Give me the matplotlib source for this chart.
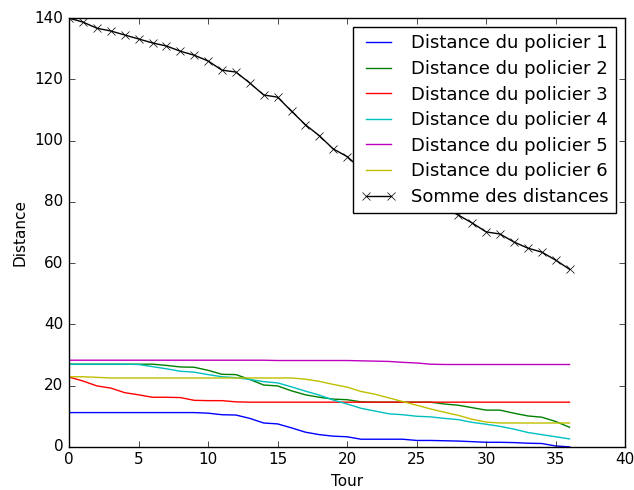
import matplotlib
matplotlib.use('Agg')
import matplotlib.pyplot as plt

# Tours 0..36
tours = list(range(37))

policier1 = [11.2, 11.2, 11.2, 11.2, 11.2, 11.2, 11.2, 11.2, 11.2, 11.2,
             11.0, 10.5, 10.4, 9.3, 7.8, 7.5, 6.2, 4.8, 4.0, 3.5,
             3.3, 2.5, 2.5, 2.5, 2.5, 2.1, 2.1, 2.0, 1.9, 1.7,
             1.5, 1.5, 1.4, 1.2, 1.1, 0.3, 0.0]
policier2 = [27.0, 27.0, 27.0, 27.0, 27.0, 27.0, 27.0, 26.6, 26.1, 26.0,
             25.0, 23.7, 23.6, 22.0, 20.2, 19.9, 18.3, 17.0, 16.2, 15.6,
             15.4, 14.7, 14.6, 14.6, 14.6, 14.6, 14.6, 14.0, 13.6, 12.8,
             12.0, 12.0, 11.0, 10.1, 9.7, 8.3, 6.4]
policier3 = [22.8, 21.5, 19.9, 19.2, 17.7, 17.0, 16.2, 16.2, 16.1, 15.2,
             15.1, 15.1, 14.7, 14.6, 14.6, 14.6, 14.6, 14.6, 14.6, 14.6,
             14.6, 14.6, 14.6, 14.6, 14.6, 14.6, 14.6, 14.6, 14.6, 14.6,
             14.6, 14.6, 14.6, 14.6, 14.6, 14.6, 14.6]
policier4 = [27.0, 27.0, 27.0, 27.0, 27.0, 26.9, 26.2, 25.5, 24.7, 24.4,
             23.6, 22.9, 22.6, 22.0, 21.3, 20.9, 19.6, 18.2, 16.9, 15.3,
             14.0, 12.6, 11.7, 10.8, 10.5, 10.0, 9.8, 9.3, 8.9, 8.0,
             7.4, 6.7, 5.8, 4.7, 4.0, 3.3, 2.6]
policier5 = [28.3, 28.3, 28.3, 28.3, 28.3, 28.3, 28.3, 28.3, 28.3, 28.3,
             28.3, 28.3, 28.3, 28.3, 28.3, 28.2, 28.2, 28.2, 28.2, 28.2,
             28.2, 28.1, 28.0, 27.9, 27.6, 27.4, 27.0, 26.9, 26.9, 26.9,
             26.9, 26.9, 26.9, 26.9, 26.9, 26.9, 26.9]
policier6 = [22.9, 22.9, 22.7, 22.5, 22.5, 22.5, 22.5, 22.5, 22.5, 22.5,
             22.5, 22.5, 22.5, 22.5, 22.5, 22.5, 22.5, 22.1, 21.4, 20.4,
             19.5, 18.1, 17.2, 16.0, 14.8, 13.6, 12.4, 11.3, 10.3, 9.0,
             8.1, 7.8, 7.8, 7.8, 7.8, 7.8, 7.8]
somme = [140.0, 138.7, 136.7, 135.8, 134.5, 133.2, 131.9, 130.9, 129.2, 127.9,
         126.0, 123.0, 122.4, 118.8, 114.9, 114.2, 109.6, 105.2, 101.6, 97.3,
         94.8, 90.8, 88.6, 86.4, 84.4, 82.2, 80.2, 78.0, 75.7, 73.1,
         70.2, 69.5, 66.9, 64.9, 63.6, 61.0, 58.0]

plt.style.use('classic')
fig = plt.figure(figsize=(6.34, 4.9), dpi=100)
fig.patch.set_facecolor('white')
ax = fig.add_subplot(111)
fig.subplots_adjust(left=0.109, right=0.986, top=0.963, bottom=0.088)

series = [policier1, policier2, policier3, policier4, policier5, policier6]
couleurs = ['b', 'g', 'r', 'c', 'm', 'y']
for i, (vals, c) in enumerate(zip(series, couleurs)):
    ax.plot(tours, vals, color=c, label='Distance du policier %d' % (i + 1))
ax.plot(tours, somme, color='k', marker='x', label='Somme des distances')

ax.set_xlim(0, 40)
ax.set_ylim(0, 140)
ax.set_xlabel('Tour', fontsize=11)
ax.set_ylabel('Distance', fontsize=11)
ax.tick_params(labelsize=11)
ax.legend(loc='upper right', fontsize=13, labelspacing=0.42)

fig.savefig('out.png', dpi=100, facecolor='white')
